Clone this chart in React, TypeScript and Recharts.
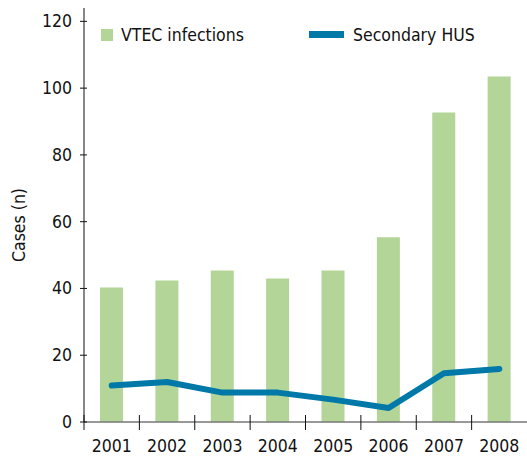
import React from 'react';
import { ComposedChart, Bar, Line, XAxis, YAxis } from 'recharts';

const years = ['2001', '2002', '2003', '2004', '2005', '2006', '2007', '2008'];
const vtecInfections = [40.3, 42.4, 45.4, 43, 45.4, 55.3, 92.7, 103.5];
const secondaryHus = [10.9, 12, 8.8, 8.8, 6.7, 4.2, 14.6, 15.9];
const yTicks = [0, 20, 40, 60, 80, 100, 120];

const data = years.map((year, i) => ({
  year,
  vtec: vtecInfections[i],
  hus: secondaryHus[i],
}));

const WIDTH = 527;
const HEIGHT = 457;
const MARGIN = { top: 8, right: 0, bottom: 0, left: 0 };
const Y_AXIS_WIDTH = 84;
const X_AXIS_HEIGHT = 35;
const FONT = '"DejaVu Sans Condensed", "DejaVu Sans", sans-serif';
const GREEN = '#b3d598';
const BLUE = '#0079a8';

const bandWidth = (WIDTH - Y_AXIS_WIDTH - MARGIN.right) / years.length;

const YTick = (props: any) => {
  const { x, y, payload } = props;
  return (
    <g>
      <line x1={x - 4} x2={x + 3} y1={y} y2={y} stroke="#111" strokeWidth={1} />
      <text
        x={x - 12}
        y={y}
        textAnchor="end"
        dominantBaseline="central"
        fontFamily={FONT}
        fontSize={17.5}
        fill="#111"
      >
        {payload.value}
      </text>
    </g>
  );
};

const XTick = (props: any) => {
  const { x, y, payload } = props;
  const bx = x - bandWidth / 2;
  return (
    <g>
      <line x1={bx} x2={bx} y1={y - 7} y2={y + 8} stroke="#111" strokeWidth={1} />
      <text
        x={x}
        y={y + 30}
        textAnchor="middle"
        fontFamily={FONT}
        fontSize={17.5}
        fill="#111"
      >
        {payload.value}
      </text>
    </g>
  );
};

const AxisTitle = (props: any) => {
  const vb = props.viewBox || { x: 0, y: 0, width: 0, height: 0 };
  const cx = vb.x + 19;
  const cy = vb.y + vb.height / 2 + 10;
  return (
    <text
      x={cx}
      y={cy}
      transform={`rotate(-90 ${cx} ${cy})`}
      textAnchor="middle"
      dominantBaseline="central"
      fontFamily={FONT}
      fontSize={17.5}
      fill="#111"
    >
      Cases (n)
    </text>
  );
};

export default function App() {
  return (
    <div style={{ position: 'absolute', left: 0, top: 0, width: WIDTH, height: HEIGHT, background: '#fff' }}>
      <ComposedChart width={WIDTH} height={HEIGHT} data={data} margin={MARGIN}>
        <XAxis
          dataKey="year"
          height={X_AXIS_HEIGHT}
          tickSize={0}
          tickMargin={0}
          axisLine={{ stroke: '#777', strokeWidth: 1.5 }}
          tickLine={false}
          tick={<XTick />}
          interval={0}
        />
        <YAxis
          width={Y_AXIS_WIDTH}
          domain={[0, 124]}
          ticks={yTicks}
          allowDataOverflow
          tickSize={0}
          tickMargin={0}
          axisLine={{ stroke: '#111', strokeWidth: 1 }}
          tickLine={false}
          tick={<YTick />}
          label={{ content: <AxisTitle /> }}
        />
        <Bar dataKey="vtec" fill={GREEN} barSize={23} isAnimationActive={false} />
        <Line
          dataKey="hus"
          type="linear"
          stroke={BLUE}
          strokeWidth={6}
          strokeLinecap="round"
          strokeLinejoin="round"
          dot={false}
          activeDot={false}
          isAnimationActive={false}
        />
      </ComposedChart>
      <div
        style={{
          position: 'absolute',
          left: 0,
          top: 0,
          fontFamily: FONT,
          fontSize: 17.5,
          color: '#111',
          pointerEvents: 'none',
        }}
      >
        <div style={{ position: 'absolute', left: 101, top: 29, width: 12, height: 12, background: GREEN }} />
        <div style={{ position: 'absolute', left: 121, top: 24, lineHeight: '22px', whiteSpace: 'nowrap' }}>
          VTEC infections
        </div>
        <div style={{ position: 'absolute', left: 309, top: 31, width: 35, height: 7, background: BLUE }} />
        <div style={{ position: 'absolute', left: 353, top: 24, lineHeight: '22px', whiteSpace: 'nowrap' }}>
          Secondary HUS
        </div>
      </div>
    </div>
  );
}
